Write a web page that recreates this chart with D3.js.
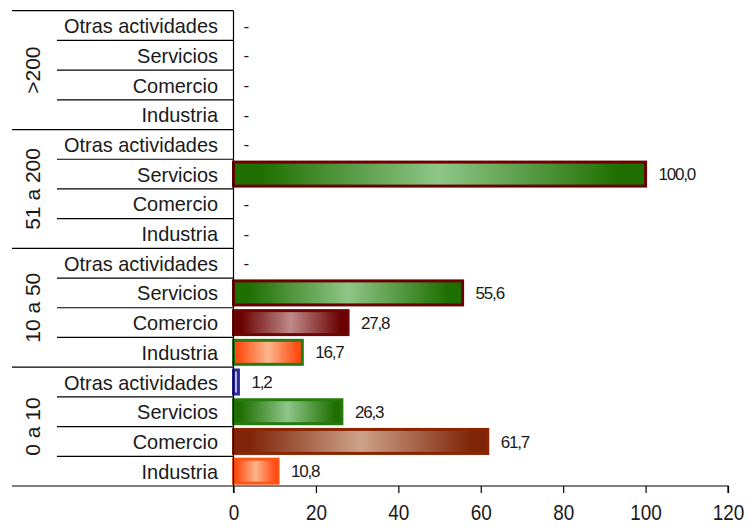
<!DOCTYPE html>
<html>
<head>
<meta charset="utf-8">
<script src="https://cdn.jsdelivr.net/npm/d3@7"></script>
<style>
  html, body { margin: 0; padding: 0; background: #fff; }
  svg { display: block; }
  text { font-family: "Liberation Sans", Arial, sans-serif; fill: #1a1a1a; }
</style>
</head>
<body>
<svg id="chart" width="748" height="527"></svg>
<script>
// ---- data (bottom to top) ----
const groups = ["0 a 10", "10 a 50", "51 a 200", ">200"];
const categories = ["Industria", "Comercio", "Servicios", "Otras actividades"];
const values_0a10   = [10.8, 61.7, 26.3, 1.2];
const values_10a50  = [16.7, 27.8, 55.6, null];
const values_51a200 = [null, null, 100.0, null];
const values_mas200 = [null, null, null, null];
const xTicks = [0, 20, 40, 60, 80, 100, 120];

const groupValues = [values_0a10, values_10a50, values_51a200, values_mas200];

// ---- styles (kept separate from data) ----
const fillStyle = {
  "Industria": { edge: "#FF4A10", center: "#FCB68C" },
  "Comercio|10 a 50": { edge: "#6A0000", center: "#BE8A8A" },
  "Comercio|0 a 10": { edge: "#7E2408", center: "#CDA28A" },
  "Servicios": { edge: "#1E6E00", center: "#8FC688" },
  "Otras actividades": { edge: "#7070C0", center: "#D4D4F2" }
};
const strokeStyle = {
  "Servicios|51 a 200": "#6B0000",
  "Servicios|10 a 50": "#6B0000",
  "Comercio|10 a 50": "#6E0606",
  "Industria|10 a 50": "#2A7A12",
  "Otras actividades|0 a 10": "#2B2B9A",
  "Servicios|0 a 10": "#277A0C",
  "Comercio|0 a 10": "#8B2500",
  "Industria|0 a 10": "#FF5414"
};

// ---- rows ----
const rows = [];
groups.forEach((g, gi) => {
  categories.forEach((c, ci) => {
    rows.push({ key: g + "|" + c, group: g, cat: c, gi, ci, value: groupValues[gi][ci] });
  });
});

const svg = d3.select("#chart");
const x0 = 233.5, x1 = 728, yTop = 10.7, yBot = 486;

const x = d3.scaleLinear().domain([0, 120]).range([x0, x1]);
const y = d3.scaleBand().domain(rows.map(r => r.key)).range([yBot, yTop]).padding(0);
const bh = 24;

// gradients
const defs = svg.append("defs");
rows.filter(r => r.value != null).forEach((r, i) => {
  const fs = fillStyle[r.cat + "|" + r.group] || fillStyle[r.cat];
  const lg = defs.append("linearGradient").attr("id", "grad" + i)
    .attr("x1", "0").attr("x2", "1").attr("y1", "0").attr("y2", "0");
  lg.append("stop").attr("offset", "0").attr("stop-color", fs.edge);
  lg.append("stop").attr("offset", "0.06").attr("stop-color", fs.edge);
  lg.append("stop").attr("offset", "0.5").attr("stop-color", fs.center);
  lg.append("stop").attr("offset", "0.94").attr("stop-color", fs.edge);
  lg.append("stop").attr("offset", "1").attr("stop-color", fs.edge);
  r.grad = "grad" + i;
});

// left table lines: group separators (long) and category separators (short)
const lines = svg.append("g").attr("stroke", "#000").attr("stroke-width", 1.2);
const boundaries = d3.range(0, rows.length + 1);
boundaries.forEach(b => {
  const yy = b === 0 ? yBot : y(rows[b - 1].key);
  const isGroup = b % 4 === 0;
  lines.append("line")
    .attr("x1", isGroup ? 12 : 57).attr("x2", x0)
    .attr("y1", yy).attr("y2", yy);
});

// bars
svg.append("g").selectAll("rect")
  .data(rows.filter(r => r.value != null))
  .join("rect")
  .attr("x", x(0))
  .attr("y", d => y(d.key) + (y.bandwidth() - bh) / 2)
  .attr("width", d => x(d.value) - x(0))
  .attr("height", bh)
  .attr("fill", d => "url(#" + d.grad + ")")
  .attr("stroke", d => strokeStyle[d.cat + "|" + d.group])
  .attr("stroke-width", 3);

// x axis
const xAxis = d3.axisBottom(x).tickValues(xTicks).tickSize(7).tickPadding(12).tickFormat(d3.format("d"));
const gx = svg.append("g").attr("transform", `translate(0,${yBot})`).call(xAxis);
gx.select(".domain").attr("stroke", "#000").attr("stroke-width", 1.2).attr("d", `M${x0},7V0H${x1}V7`);
gx.selectAll(".tick line").attr("stroke", "#000").attr("stroke-width", 1.2);
gx.selectAll(".tick text")
  .style("font-size", "21.5px")
  .style("font-family", "Liberation Sans, Arial, sans-serif")
  .attr("fill", "#1a1a1a")
  .attr("transform", "scale(0.88,1)");

// vertical axis line
svg.append("line").attr("x1", x0).attr("x2", x0).attr("y1", yTop).attr("y2", yBot)
  .attr("stroke", "#000").attr("stroke-width", 1.2);

// category labels
svg.append("g").selectAll("text")
  .data(rows)
  .join("text")
  .attr("transform", d => `translate(218,${y(d.key) + y.bandwidth() / 2}) scale(0.95,1)`)
  .attr("dy", "0.36em")
  .attr("text-anchor", "end")
  .style("font-size", "21px")
  .text(d => d.cat);

// group labels (rotated)
svg.append("g").selectAll("text")
  .data(groups)
  .join("text")
  .attr("transform", (g, gi) => {
    const top = y(rows[gi * 4 + 3].key);
    const bot = y(rows[gi * 4].key) + y.bandwidth();
    return `translate(32,${(top + bot) / 2}) rotate(-90)`;
  })
  .attr("dy", "0.36em")
  .attr("text-anchor", "middle")
  .style("font-size", "21px")
  .text(g => g);

// value labels
const fmt = v => d3.format(".1f")(v).replace(".", ",");
svg.append("g").selectAll("text")
  .data(rows)
  .join("text")
  .attr("x", d => d.value == null ? x(0) + 10 : x(d.value) + 13)
  .attr("y", d => y(d.key) + y.bandwidth() / 2)
  .attr("dy", "0.36em")
  .style("font-size", "17px")
  .style("letter-spacing", d => d.value == null ? "0" : "-1.2px")
  .text(d => d.value == null ? "-" : fmt(d.value));
</script>
</body>
</html>
